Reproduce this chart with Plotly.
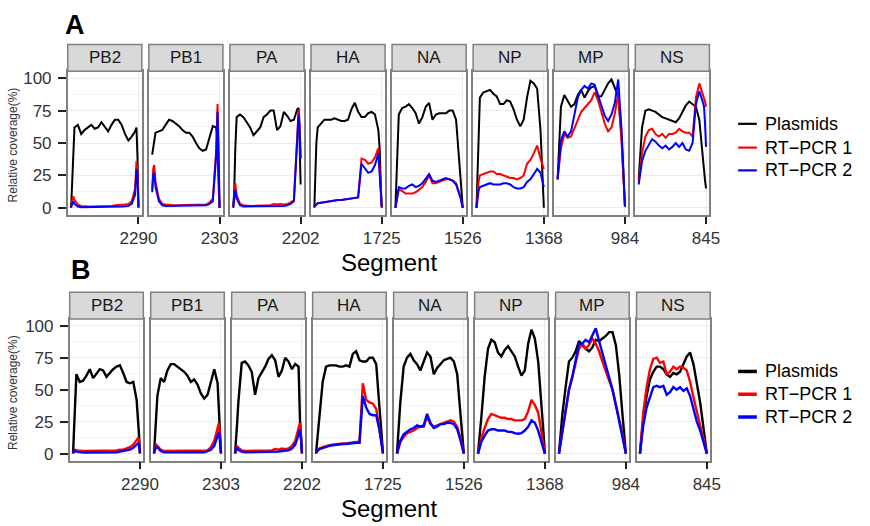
import plotly.graph_objects as go

# ---------------------------------------------------------------- data
segments = ["PB2", "PB1", "PA", "HA", "NA", "NP", "MP", "NS"]
seg_lengths = [2290, 2303, 2202, 1725, 1526, 1368, 984, 845]

# sampling positions along each segment, in percent of its length
sample_pct = [0, 1.5, 3, 5, 10, 15, 20, 25, 30, 35, 40, 45, 50, 55, 60, 65,
              70, 75, 80, 85, 90, 95, 97, 98.5, 100]

series_names = ["Plasmids", "RT\u2212PCR 1", "RT\u2212PCR 2"]
series_colors = ["#000000", "#ff0000", "#0000ff"]

# relative coverage (%), experiment A
a_plasmids = {
    "PB2": [0, 22, 45, 62, 64, 57, 60, 62, 64, 61, 62, 66, 62, 59, 64, 68, 68, 64, 57, 52, 55, 59, 62, 40, 0],
    "PB1": [41, 47, 53, 58, 59, 60, 64, 68, 67, 65, 63, 60, 58, 58, 55, 50, 46, 44, 45, 54, 63, 62, 50, 20, 0],
    "PA":  [0, 15, 45, 70, 72, 70, 66, 62, 56, 59, 62, 70, 72, 75, 75, 60, 63, 74, 71, 67, 68, 76, 77, 50, 18],
    "HA":  [0, 25, 50, 62, 65, 68, 68, 68, 69, 68, 67, 67, 68, 76, 81, 74, 70, 70, 73, 74, 72, 60, 45, 20, 0],
    "NA":  [0, 20, 45, 72, 77, 78, 80, 77, 73, 65, 70, 78, 81, 68, 72, 73, 73, 73, 75, 75, 68, 32, 20, 10, 0],
    "NP":  [0, 25, 55, 85, 89, 90, 91, 88, 86, 80, 80, 83, 82, 76, 68, 63, 68, 85, 98, 96, 92, 60, 40, 20, 0],
    "MP":  [22, 40, 58, 78, 87, 82, 78, 80, 87, 91, 85, 90, 93, 94, 86, 86, 91, 96, 99, 93, 86, 55, 35, 18, 1],
    "NS":  [22, 35, 48, 62, 75, 76, 75, 74, 72, 70, 69, 68, 67, 66, 69, 74, 79, 82, 80, 78, 68, 38, 28, 21, 15],
}
a_rtpcr1 = {
    "PB2": [1, 7, 9, 6, 2.5, 1.5, 1, 1, 1, 1, 1, 1, 1, 1, 1.5, 2, 2, 2.5, 2.5, 3, 5, 15, 36, 28, 1],
    "PB1": [14, 30, 33, 20, 7, 3, 2.5, 2, 2, 2, 2, 2, 2, 2, 2, 2, 2, 2, 2.5, 4, 7, 45, 80, 45, 0],
    "PA":  [1, 12, 19, 10, 3, 2, 1.5, 1.5, 1.5, 1.5, 1.5, 2, 2, 2, 3, 2.5, 3, 2.5, 3, 4, 6, 55, 76, 65, 38],
    "HA":  [1, 2, 3, 3.5, 4, 4.5, 5, 5, 5.5, 6, 6, 6.5, 7, 7, 7.5, 8, 38, 37, 34, 35, 39, 46, 30, 12, 1],
    "NA":  [0, 4, 9, 14, 13, 11, 11, 11, 12, 14, 16, 20, 25, 19, 19, 20, 21, 22, 22, 21, 19, 12, 8, 4, 0],
    "NP":  [0, 10, 20, 25, 26, 27, 28, 28, 26, 26, 25, 24, 23, 23, 22, 23, 25, 34, 37, 42, 48, 38, 35, 33, 30],
    "MP":  [22, 30, 37, 46, 57, 54, 55, 61, 68, 74, 77, 80, 83, 89, 83, 74, 65, 59, 62, 73, 88, 50, 30, 15, 1],
    "NS":  [20, 27, 34, 42, 55, 60, 61, 57, 55, 57, 54, 57, 57, 58, 61, 59, 58, 58, 55, 85, 96, 88, 86, 82, 78],
}
a_rtpcr2 = {
    "PB2": [0.5, 4, 5, 3, 1, 0.5, 0.5, 0.5, 0.5, 0.5, 0.5, 0.5, 0.5, 0.5, 0.8, 1, 1, 1, 1.2, 1.5, 3, 10, 30, 24, 0.5],
    "PB1": [12, 25, 27, 16, 5, 2, 1.5, 1.5, 1.5, 1.5, 1.5, 1.5, 1.5, 1.5, 1.5, 1.5, 1.5, 1.5, 2, 3, 5, 40, 74, 42, 0],
    "PA":  [1, 10, 14, 7, 2, 1, 1, 1, 1, 1, 1, 1, 1, 1, 1.5, 1.5, 1.5, 1.5, 2, 3, 5, 50, 72, 60, 38],
    "HA":  [1, 2, 3, 3.5, 4, 4.5, 5, 5, 5.5, 6, 6, 6.5, 7, 7, 7.5, 8, 34, 30, 27, 28, 33, 42, 22, 8, 1],
    "NA":  [0, 5, 10, 16, 15, 15, 17, 18, 16, 17, 19, 23, 26, 21, 20, 21, 22, 23, 22, 21, 18, 11, 7, 3, 0],
    "NP":  [0, 7, 13, 16, 17, 18, 19, 18, 18, 18, 19, 19, 18, 16, 15, 15, 16, 20, 22, 26, 30, 27, 22, 19, 16],
    "MP":  [22, 32, 40, 52, 59, 55, 59, 72, 85, 91, 94, 92, 96, 95, 87, 79, 71, 67, 72, 81, 99, 60, 35, 15, 1],
    "NS":  [18, 24, 30, 36, 44, 48, 53, 51, 48, 46, 48, 45, 47, 50, 47, 50, 45, 44, 50, 80, 90, 82, 78, 65, 47],
}

# relative coverage (%), experiment B
b_plasmids = {
    "PB2": [0, 18, 38, 62, 56, 57, 61, 66, 59, 63, 66, 65, 60, 63, 66, 68, 69, 63, 56, 55, 56, 42, 30, 15, 0],
    "PB1": [0, 15, 30, 45, 59, 56, 65, 70, 70, 68, 66, 64, 61, 56, 58, 54, 47, 43, 46, 57, 66, 55, 35, 15, 0],
    "PA":  [0, 9, 22, 40, 71, 72, 69, 64, 46, 59, 63, 68, 74, 77, 73, 60, 65, 75, 72, 66, 70, 68, 27, 12, 0],
    "HA":  [0, 8, 16, 28, 56, 68, 69, 69, 69, 68, 68, 69, 68, 78, 80, 73, 72, 72, 75, 75, 70, 35, 25, 12, 0],
    "NA":  [0, 12, 25, 40, 68, 75, 78, 73, 70, 65, 72, 79, 76, 62, 67, 70, 73, 74, 75, 72, 62, 30, 20, 10, 0],
    "NP":  [0, 8, 16, 28, 60, 82, 89, 87, 79, 76, 81, 84, 80, 76, 68, 61, 65, 86, 97, 90, 72, 40, 25, 12, 0],
    "MP":  [0, 10, 20, 30, 52, 72, 75, 80, 88, 85, 82, 80, 83, 89, 88, 90, 92, 95, 95, 85, 62, 30, 20, 10, 0],
    "NS":  [0, 10, 18, 27, 45, 58, 64, 68, 68, 66, 62, 60, 63, 62, 64, 70, 76, 79, 70, 55, 40, 20, 12, 5, 0],
}
b_rtpcr1 = {
    "PB2": [1, 2.5, 3, 2.5, 2, 2, 2, 2, 2, 2, 2, 2, 2, 2, 2, 2.5, 3, 3, 4, 5, 7, 10, 12, 11, 1],
    "PB1": [1, 5, 7, 6, 3, 2, 2, 2, 2, 2, 2, 2, 2, 2, 2, 2, 2, 2, 2.5, 5, 10, 20, 24, 15, 1],
    "PA":  [1, 4, 6, 4.5, 2.5, 2, 2, 2, 2, 2, 2, 2, 2, 2.5, 3.5, 3, 4, 3.5, 4, 6, 10, 20, 24, 15, 1],
    "HA":  [1, 2, 3, 4, 5, 6, 6.5, 7, 7.5, 8, 8, 8, 8.5, 8.5, 9, 9, 55, 42, 40, 39, 35, 18, 10, 5, 1],
    "NA":  [0, 3, 6, 9, 13, 16, 17, 18, 20, 21, 21, 29, 23, 21, 22, 23, 24, 25, 26, 25, 21, 12, 8, 4, 0],
    "NP":  [0, 4, 8, 12, 20, 27, 31, 30, 29, 28, 28, 27, 27, 26, 26, 26, 27, 33, 42, 38, 32, 18, 10, 5, 0],
    "MP":  [0, 5, 10, 16, 32, 50, 60, 72, 82, 86, 82, 85, 90, 86, 80, 72, 64, 57, 50, 39, 28, 15, 9, 4, 0],
    "NS":  [0, 12, 22, 32, 52, 66, 74, 75, 71, 72, 62, 64, 68, 66, 68, 67, 65, 56, 44, 32, 22, 12, 7, 3, 0],
}
b_rtpcr2 = {
    "PB2": [0.5, 1.5, 2, 1.5, 1, 0.8, 0.8, 0.8, 0.8, 0.8, 0.8, 0.8, 0.8, 0.8, 0.8, 1, 1.5, 2, 2.5, 3, 4.5, 6.5, 8, 7, 1],
    "PB1": [0.5, 3, 5, 5, 2, 1, 1, 1, 1, 1, 1, 1, 1, 1, 1, 1, 1, 1, 2, 3, 6, 14, 17, 10, 1],
    "PA":  [0.5, 3, 4, 3, 1.5, 1, 1, 1, 1, 1, 1, 1, 1, 1.2, 1.5, 1.5, 2, 2, 2.5, 4, 7, 15, 19, 12, 1],
    "HA":  [1, 1.5, 2.5, 3.5, 4.5, 5.5, 6, 6.5, 7, 7, 7.5, 7.5, 8, 8, 8.5, 8.5, 45, 36, 31, 30, 30, 18, 10, 5, 1],
    "NA":  [0, 3, 6, 10, 15, 17, 19, 20, 22, 21, 22, 31, 24, 20, 21, 23, 23, 24, 24, 23, 19, 10, 7, 3, 0],
    "NP":  [0, 3, 6, 9, 14, 18, 19, 19, 18, 18, 18, 17, 17, 16, 15.5, 16, 18, 21, 26, 24, 18, 9, 5, 2, 0],
    "MP":  [0, 5, 10, 16, 32, 50, 60, 72, 86, 86, 89, 87, 92, 98, 88, 79, 68, 60, 50, 38, 26, 14, 9, 4, 0],
    "NS":  [0, 8, 15, 22, 36, 45, 52, 53, 52, 53, 46, 48, 52, 50, 52, 49, 51, 45, 34, 25, 18, 9, 5, 2, 0],
}

# ---------------------------------------------------------------- layout geometry (pixels)
W, H = 870, 526
FONT = "Liberation Sans, Arial, sans-serif"
BORDER = "#808080"
GRID = "#ebebeb"
GRID_MINOR = "#f5f5f5"
TEXT = "#333333"

rows = [
    dict(tag="A", data=(a_plasmids, a_rtpcr1, a_rtpcr2), left=69, pitch=82.6, width=75.5,
         top=70, bottom=215, strip=27, lw=2.0, leg_lw=2.2,
         tag_xy=(76, 23), ytitle_y=144, xtitle_y=263, leg_y=(123, 147, 170)),
    dict(tag="B", data=(b_plasmids, b_rtpcr1, b_rtpcr2), left=71, pitch=82.5, width=75,
         top=320, bottom=463, strip=27, lw=2.4, leg_lw=3.5,
         tag_xy=(83, 271), ytitle_y=394, xtitle_y=511, leg_y=(373, 396, 419)),
]
Y_RANGE = [-5.5, 105.3]


def fx(px):
    return px / W


def fy(py):
    return 1 - py / H


fig = go.Figure()
layout = dict(
    width=W, height=H, autosize=False,
    margin=dict(l=0, r=0, t=0, b=0),
    paper_bgcolor="white", plot_bgcolor="white",
    font=dict(family=FONT, color=TEXT),
    showlegend=False,
)
shapes, annotations = [], []

for r, row in enumerate(rows):
    for i, (seg, L) in enumerate(zip(segments, seg_lengths)):
        k = r * len(segments) + i + 1
        xa, ya = ("xaxis", "yaxis") if k == 1 else (f"xaxis{k}", f"yaxis{k}")
        xr, yr = ("x", "y") if k == 1 else (f"x{k}", f"y{k}")
        x_left = row["left"] + i * row["pitch"]
        x_right = x_left + row["width"]
        pad = 0.05 * (L - 1)

        layout[xa] = dict(
            domain=[fx(x_left), fx(x_right)], anchor=yr,
            range=[1 - pad, L + pad],
            tickmode="array", tickvals=[L], ticktext=[str(L)],
            ticks="outside", ticklen=7, tickwidth=1.6, tickcolor="#222222",
            tickfont=dict(size=17, color=TEXT, family=FONT),
            showgrid=True, gridcolor=GRID, gridwidth=1,
            zeroline=False, showline=True, mirror=True,
            linecolor=BORDER, linewidth=1.5, fixedrange=True,
        )
        first = i == 0
        layout[ya] = dict(
            domain=[fy(row["bottom"]), fy(row["top"])], anchor=xr,
            range=Y_RANGE,
            tickmode="array", tickvals=[0, 25, 50, 75, 100],
            showticklabels=first, ticks="outside" if first else "",
            ticklen=8, tickwidth=1.6, tickcolor="#222222",
            ticklabelstandoff=3,
            tickfont=dict(size=17, color=TEXT, family=FONT),
            showgrid=True, gridcolor=GRID, gridwidth=1,
            minor=dict(tickvals=[12.5, 37.5, 62.5, 87.5], showgrid=True,
                       gridcolor=GRID_MINOR, gridwidth=1, ticks=""),
            zeroline=False, showline=True, mirror=True,
            linecolor=BORDER, linewidth=1.5, fixedrange=True,
        )

        xs = [1 + p / 100 * (L - 1) for p in sample_pct]
        for s, (name, color) in enumerate(zip(series_names, series_colors)):
            vals = row["data"][s][seg]
            assert len(vals) == len(sample_pct)
            fig.add_trace(go.Scatter(
                x=xs, y=vals, mode="lines", name=name,
                line=dict(color=color, width=row["lw"]),
                xaxis=xr, yaxis=yr, hoverinfo="skip", showlegend=False,
            ))

        # facet strip
        strip_top = row["top"] - row["strip"]
        shapes.append(dict(
            type="rect", xref="paper", yref="paper",
            x0=fx(x_left), x1=fx(x_right), y0=fy(row["top"]), y1=fy(strip_top),
            fillcolor="#d9d9d9", line=dict(color=BORDER, width=1.5), layer="above",
        ))
        annotations.append(dict(
            text=seg, xref="paper", yref="paper",
            x=fx((x_left + x_right) / 2), y=fy((strip_top + row["top"]) / 2),
            xanchor="center", yanchor="middle", showarrow=False,
            font=dict(size=17, color="#1a1a1a", family=FONT),
        ))

    # panel tag, axis titles
    annotations.append(dict(
        text=f"<b>{row['tag']}</b>", xref="paper", yref="paper",
        x=fx(row["tag_xy"][0]), y=fy(row["tag_xy"][1]),
        xanchor="center", yanchor="middle", showarrow=False,
        font=dict(size=27, color="#000000", family=FONT),
    ))
    annotations.append(dict(
        text="Relative coverage(%)", xref="paper", yref="paper",
        x=fx(13), y=fy(row["ytitle_y"]), textangle=-90,
        xanchor="center", yanchor="middle", showarrow=False,
        font=dict(size=12, color=TEXT, family=FONT),
    ))
    annotations.append(dict(
        text="Segment", xref="paper", yref="paper",
        x=fx(396), y=fy(row["xtitle_y"]),
        xanchor="center", yanchor="middle", showarrow=False,
        font=dict(size=24, color="#000000", family=FONT),
    ))

    # key
    for name, color, ly in zip(series_names, series_colors, row["leg_y"]):
        shapes.append(dict(
            type="line", xref="paper", yref="paper",
            x0=fx(752), x1=fx(771), y0=fy(ly), y1=fy(ly),
            line=dict(color=color, width=row["leg_lw"]),
        ))
        annotations.append(dict(
            text=name, xref="paper", yref="paper",
            x=fx(777), y=fy(ly), xanchor="left", yanchor="middle",
            showarrow=False, font=dict(size=18, color="#000000", family=FONT),
        ))

layout["shapes"] = shapes
layout["annotations"] = annotations
fig.update_layout(**layout)
fig.write_html("out.html")
